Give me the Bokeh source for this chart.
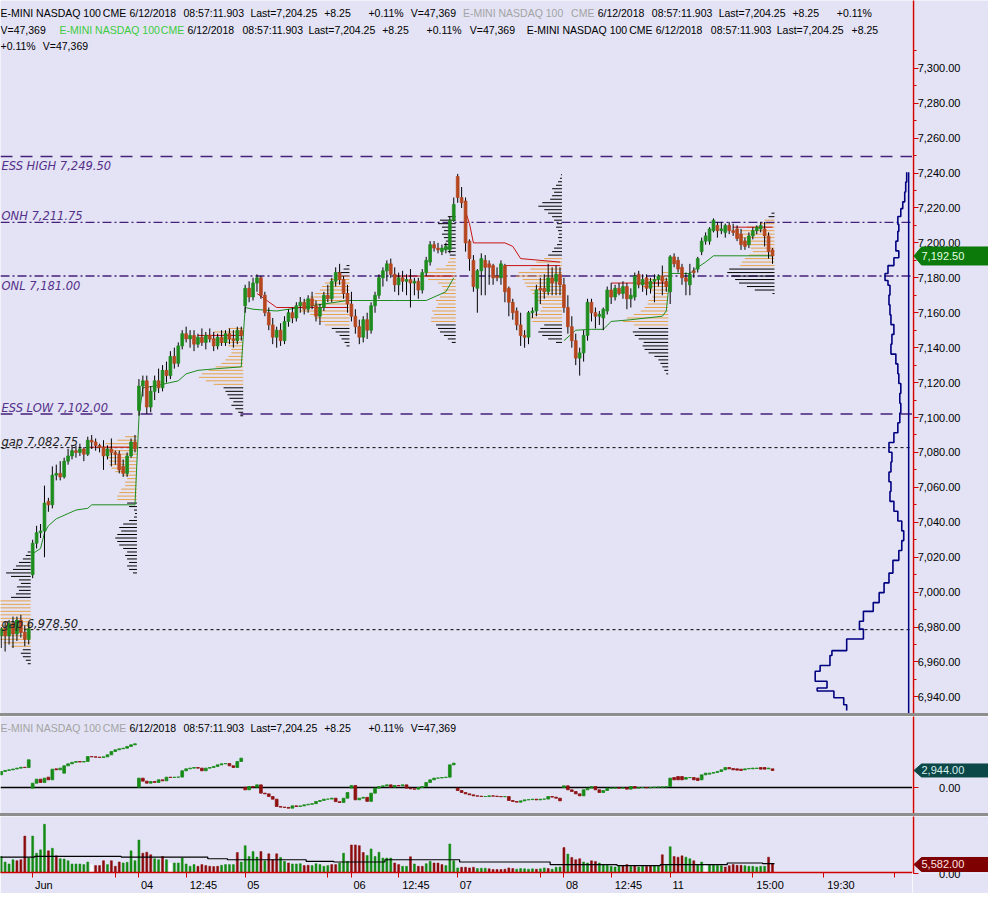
import math
from bokeh.plotting import figure
from bokeh.models import (Range1d, FixedTicker, NumeralTickFormatter, Label, Span,
                          ColumnDataSource, Div, LinearAxis)
from bokeh.layouts import column, row
from bokeh.embed import file_html
from bokeh.resources import INLINE
from bokeh.core.properties import value

# ------------------------------------------------------------------ DATA
# 15-minute bars, bar index 0 = first visible bar (May 31), 27 bars per session
session_names = ["May 31", "Jun 1", "Jun 4", "Jun 5", "Jun 6", "Jun 7", "Jun 8", "Jun 11"]

may31_open = [6975, 6979, 6975, 6982, 6976, 6984, 6977, 6973]
may31_high = [6980, 6983, 6984, 6986, 6986, 6987, 6981, 6982]
may31_low = [6968, 6966, 6970, 6968, 6972, 6974, 6969, 6970]
may31_close = [6979, 6975, 6982, 6976, 6984, 6977, 6973, 6979]

jun01_open = [7010, 7028, 7034, 7035, 7052, 7050, 7067, 7068, 7066, 7075, 7078, 7081, 7080, 7082, 7079, 7087, 7086, 7084, 7083, 7078, 7082, 7080, 7079, 7072, 7068, 7078, 7086]
jun01_high = [7030, 7038, 7039, 7061, 7054, 7072, 7073, 7075, 7077, 7082, 7084, 7084, 7085, 7083, 7089, 7090, 7088, 7085, 7087, 7084, 7088, 7081, 7081, 7076, 7080, 7088, 7090]
jun01_low = [7008, 7025, 7031, 7020, 7046, 7048, 7064, 7064, 7065, 7073, 7076, 7077, 7078, 7075, 7078, 7082, 7081, 7080, 7070, 7076, 7072, 7073, 7068, 7066, 7066, 7077, 7080]
jun01_close = [7028, 7034, 7035, 7051, 7050, 7067, 7068, 7066, 7075, 7078, 7081, 7080, 7082, 7079, 7087, 7086, 7084, 7083, 7078, 7082, 7080, 7079, 7070, 7068, 7078, 7086, 7082]

jun04_open = [7104, 7118, 7121, 7106, 7115, 7121, 7117, 7127, 7124, 7135, 7131, 7141, 7148, 7145, 7147, 7142, 7146, 7143, 7147, 7145, 7141, 7146, 7143, 7148, 7145, 7144, 7150]
jun04_high = [7122, 7124, 7124, 7118, 7124, 7128, 7130, 7132, 7138, 7140, 7143, 7150, 7152, 7150, 7150, 7148, 7151, 7149, 7151, 7149, 7148, 7150, 7150, 7151, 7150, 7152, 7152]
jun04_low = [7101, 7112, 7102, 7103, 7110, 7114, 7115, 7120, 7122, 7128, 7129, 7139, 7143, 7140, 7138, 7140, 7141, 7139, 7143, 7138, 7139, 7141, 7141, 7142, 7140, 7142, 7144]
jun04_close = [7118, 7121, 7106, 7115, 7121, 7117, 7127, 7124, 7135, 7131, 7141, 7148, 7145, 7147, 7142, 7146, 7143, 7147, 7145, 7141, 7146, 7143, 7148, 7145, 7144, 7150, 7147]

jun05_open = [7164, 7174, 7169, 7177, 7180, 7170, 7160, 7153, 7146, 7150, 7144, 7155, 7160, 7157, 7164, 7166, 7162, 7168, 7164, 7158, 7163, 7170, 7168, 7178, 7183, 7179, 7171]
jun05_high = [7176, 7178, 7180, 7182, 7181, 7172, 7163, 7157, 7152, 7154, 7158, 7162, 7163, 7166, 7169, 7168, 7170, 7172, 7167, 7165, 7172, 7176, 7180, 7186, 7188, 7181, 7176]
jun05_low = [7160, 7166, 7167, 7172, 7168, 7158, 7150, 7142, 7140, 7141, 7142, 7152, 7154, 7155, 7160, 7159, 7160, 7162, 7155, 7153, 7161, 7166, 7166, 7175, 7176, 7168, 7160]
jun05_close = [7174, 7169, 7177, 7180, 7170, 7160, 7153, 7146, 7150, 7144, 7155, 7160, 7157, 7164, 7166, 7162, 7168, 7164, 7158, 7163, 7170, 7168, 7178, 7183, 7179, 7171, 7165]

jun06_open = [7165, 7158, 7152, 7146, 7156, 7150, 7164, 7170, 7180, 7184, 7188, 7182, 7176, 7180, 7178, 7179, 7177, 7178, 7173, 7183, 7189, 7199, 7197, 7195, 7196, 7196, 7213]
jun06_high = [7172, 7162, 7156, 7158, 7160, 7166, 7172, 7182, 7186, 7190, 7191, 7186, 7183, 7184, 7182, 7185, 7180, 7180, 7185, 7192, 7201, 7201, 7200, 7199, 7200, 7215, 7226]
jun06_low = [7155, 7148, 7142, 7143, 7145, 7148, 7160, 7168, 7175, 7178, 7180, 7172, 7170, 7172, 7170, 7163, 7170, 7168, 7171, 7181, 7187, 7195, 7194, 7193, 7194, 7194, 7212]
jun06_close = [7158, 7152, 7146, 7156, 7150, 7164, 7170, 7180, 7184, 7188, 7182, 7176, 7180, 7178, 7179, 7177, 7178, 7173, 7183, 7190, 7199, 7197, 7196, 7197, 7198, 7213, 7222]

jun07_open = [7238, 7226, 7224, 7201, 7190, 7174, 7184, 7190, 7188, 7187, 7181, 7180, 7187, 7174, 7166, 7161, 7153, 7147, 7146, 7160, 7161, 7174, 7174, 7172, 7180, 7178, 7182]
jun07_high = [7239.5, 7232, 7226, 7202, 7193, 7185, 7194, 7193, 7190, 7188, 7186, 7190, 7188, 7175, 7168, 7163, 7160, 7150, 7161, 7163, 7176, 7180, 7182, 7188, 7186, 7187, 7186]
jun07_low = [7223, 7220, 7195, 7184, 7172, 7160, 7170, 7170, 7176, 7176, 7178, 7176, 7166, 7158, 7156, 7150, 7141, 7140, 7142, 7157, 7158, 7165, 7168, 7170, 7170, 7170, 7170]
jun07_close = [7226, 7223, 7200, 7191, 7175, 7184, 7191, 7186, 7186, 7180, 7180, 7188, 7172, 7166, 7160, 7153, 7147, 7146, 7160, 7161, 7173, 7173, 7172, 7180, 7177, 7182, 7176]

jun08_open = [7176, 7163, 7152, 7144, 7134, 7137, 7147, 7166, 7160, 7158, 7157, 7161, 7173, 7169, 7174, 7171, 7175, 7168, 7169, 7182, 7176, 7180, 7174, 7178, 7179, 7181, 7178]
jun08_high = [7180, 7170, 7158, 7148, 7140, 7150, 7168, 7168, 7163, 7161, 7163, 7175, 7177, 7176, 7177, 7178, 7177, 7174, 7183, 7184, 7182, 7182, 7180, 7182, 7182, 7187, 7180]
jun08_low = [7160, 7148, 7140, 7130, 7124, 7132, 7144, 7155, 7151, 7153, 7150, 7159, 7165, 7167, 7170, 7168, 7162, 7163, 7167, 7174, 7172, 7170, 7171, 7166, 7175, 7170, 7172]
jun08_close = [7163, 7152, 7144, 7134, 7137, 7147, 7166, 7160, 7158, 7159, 7162, 7173, 7169, 7174, 7171, 7175, 7168, 7170, 7181, 7176, 7179, 7174, 7178, 7179, 7181, 7178, 7175]

jun11_open = [7172, 7192, 7190, 7186, 7180, 7176, 7184, 7185, 7195, 7201, 7201, 7207, 7210, 7207, 7206, 7210, 7207, 7208, 7205, 7201, 7199, 7204, 7207, 7208, 7208, 7204, 7196]
jun11_high = [7193, 7194, 7192, 7188, 7183, 7188, 7186, 7192, 7203, 7206, 7209, 7214, 7212, 7212, 7211, 7212, 7211, 7210, 7208, 7203, 7206, 7209, 7210, 7212, 7212, 7206, 7197]
jun11_low = [7165, 7186, 7183, 7176, 7170, 7170, 7180, 7183, 7193, 7199, 7199, 7206, 7203, 7205, 7203, 7205, 7204, 7201, 7196, 7196, 7197, 7202, 7205, 7206, 7198, 7191, 7188]
jun11_close = [7192, 7188, 7185, 7180, 7178, 7182, 7183, 7191, 7201, 7204, 7208, 7213, 7207, 7208, 7210, 7207, 7206, 7202.5, 7199, 7198, 7204, 7207, 7209, 7210, 7204, 7195, 7192.5]

# cumulative delta (second pane)
may31_dopen = [2200, 2770, 2950, 3060, 3200, 3350, 3500, 3450]
may31_dclose = [2770, 2950, 3060, 3200, 3350, 3500, 3450, 4790]
jun01_dopen = [-115, 750, 1440, 870, 1790, 1330, 3230, 3060, 2480, 3750, 4100, 4350, 4500, 4400, 4500, 5360, 5300, 5250, 5200, 5300, 5650, 6230, 6520, 6700, 6800, 7100, 7380]
jun01_dclose = [750, 1440, 870, 1620, 1330, 3170, 3060, 3350, 3750, 4100, 4350, 4500, 4400, 4500, 5360, 5300, 5250, 5200, 5300, 5650, 6230, 6520, 6700, 6800, 7100, 7380, 7560]
jun04_dopen = [60, 1620, 1100, 750, 1040, 870, 1330, 1150, 1790, 1730, 1790, 1800, 2890, 3230, 3350, 3460, 3350, 2890, 3350, 3460, 3640, 3920, 4100, 4150, 3750, 3460, 4500]
jun04_dclose = [1620, 1100, 750, 1040, 870, 1330, 1150, 1790, 1730, 1790, 1800, 2890, 3230, 3350, 3460, 3350, 2890, 3350, 3460, 3640, 3920, 4100, 4150, 3750, 3460, 4500, 5080]
jun05_dopen = [50, -400, 170, 60, 460, -980, -1100, -1560, -2020, -3290, -3400, -3450, -3580, -3170, -3290, -3180, -3000, -2900, -2800, -2420, -2250, -2020, -2000, -1850, -2450, -2600, -1850]
jun05_dclose = [-400, 170, 60, 460, -980, -1100, -1560, -2020, -3290, -3400, -3450, -3580, -3170, -3290, -3180, -3000, -2900, -2800, -2420, -2250, -2020, -2000, -1850, -2450, -2600, -1850, -870]
jun06_dopen = [-100, 350, -2130, -1850, -1700, -2400, -980, -115, 170, 290, 460, 60, 350, 290, 460, -115, -230, -290, 0, 170, 870, 1330, 1620, 1650, 1730, 1790, 3920]
jun06_dclose = [350, -2130, -1850, -1700, -2400, -980, -115, 170, 290, 460, 60, 350, 290, 460, -115, -230, -290, 0, 170, 870, 1330, 1620, 1650, 1730, 1790, 3920, 4210]
jun07_dopen = [-100, -520, -870, -1100, -1270, -1440, -1500, -1560, -1560, -1440, -1500, -1560, -1600, -1560, -2250, -2420, -2540, -2310, -2140, -2100, -2020, -2140, -2020, -2000, -1560, -1670, -1850]
jun07_dclose = [-520, -870, -1100, -1270, -1440, -1500, -1560, -1560, -1440, -1500, -1560, -1600, -1560, -2250, -2420, -2540, -2310, -2140, -2100, -2020, -2140, -2020, -2000, -1560, -1670, -1850, -2310]
jun08_dopen = [0, 290, -400, -690, -1100, -1440, -400, -115, 170, -400, -870, -520, -115, -115, -60, -115, -60, -290, 170, -115, 0, 0, -60, 0, 60, 60, 100]
jun08_dclose = [290, -400, -690, -1100, -1440, -400, -115, 170, -400, -870, -520, -115, -115, -60, -115, -60, -290, 170, -115, 0, 0, -60, 0, 60, 60, 100, 120]
jun11_dopen = [170, 1730, 1900, 1900, 1440, 1700, 1730, 1616, 1330, 2190, 2310, 2480, 2600, 2770, 3060, 3460, 3290, 3230, 3170, 3060, 3230, 3230, 3290, 3460, 3460, 3230, 3230]
jun11_dclose = [1620, 1330, 1330, 1330, 1730, 1730, 1330, 1210, 2190, 2480, 2480, 2600, 2770, 3060, 3460, 3230, 3060, 3000, 2940, 3230, 3290, 3350, 3350, 3170, 3170, 3350, 2944]

# volume (third pane); side: g = up, r = down, w = unchanged
may31_vol = [10140, 6620, 5380, 8070, 7450, 8070, 22980, 9100]
may31_side = "ggggrrrg"
jun01_vol = [22980, 12210, 14280, 30430, 13660, 15320, 10560, 8690, 8490, 7450, 5380, 5380, 5380, 4970, 6620, 4970, 4350, 4350, 7450, 4970, 7450, 3930, 6620, 6000, 6410, 13660, 7450]
jun01_side = "ggggrgrggggggggwrrrgrrrgggg"
jun04_vol = [20490, 12210, 12830, 11180, 8690, 8070, 10140, 8070, 6000, 6000, 6000, 9100, 5380, 3930, 4970, 3930, 4970, 4350, 3930, 3720, 3930, 4550, 4970, 4970, 4970, 12620, 6620]
jun04_side = "grrrggrgwggggggrrrrrrggggrg"
jun05_vol = [16960, 10140, 13240, 9730, 13240, 7450, 11790, 8070, 11790, 9520, 7040, 6000, 5380, 5380, 5590, 4350, 4550, 4350, 5590, 4970, 3930, 4350, 4970, 4970, 6000, 12210, 7040]
jun05_side = "ggggrgrrrggrgggrrgggggrrggg"
jun06_vol = [17390, 17390, 16960, 12620, 10760, 14900, 10140, 12830, 9100, 9100, 9100, 6000, 4970, 3930, 3930, 9940, 5380, 3930, 3930, 5590, 7040, 6000, 6000, 4970, 4350, 18010, 7450]
jun06_side = "rrrrgggggggrrggrgrrggrrrggg"
jun07_vol = [2900, 3310, 3310, 2900, 3310, 2480, 2700, 2700, 2300, 1900, 1900, 1900, 2100, 2900, 2500, 2100, 2500, 2300, 2100, 2300, 2100, 2300, 2900, 2500, 2100, 3300, 3500]
jun07_side = "grrrrgggrrrrrrrgggggrggrggg"
jun08_vol = [15700, 11600, 9500, 8100, 8700, 6600, 6000, 7400, 7000, 6000, 5000, 4500, 3900, 3500, 3900, 4300, 5000, 3900, 4300, 3500, 3900, 3900, 4300, 4300, 4000, 11200, 4500]
jun08_side = "rgrrrggrrggggggrrgrggrrggrg"
jun11_vol = [16300, 10100, 9700, 10500, 9700, 8700, 7400, 5000, 6600, 5000, 5000, 5000, 4500, 4300, 3500, 4300, 5000, 4500, 4500, 4300, 3900, 3900, 3500, 3900, 3900, 9700, 5400]
jun11_side = "grrrggrggwggggrrrrrggggggrr"

# volume average (step line): first bar of each step and its value
vol_avg_start = [0, 9, 31, 53, 58, 78, 85, 98, 117, 140, 157, 168, 185, 194, 197]
vol_avg_value = [9720, 10130, 9720, 8680, 8060, 7030, 6620, 8060, 6620, 4960, 4340, 4960, 6000, 5582, 5582]

# session volume profiles: last bar of session, lowest level, value area, volume per 2-pt level
prof_last_bar = [7, 34, 61, 88, 115, 142, 169, 196]
prof_low_price = [6959, 7011, 7101, 7141, 7143, 7143, 7125, 7171]
prof_va_low = [6969, 7053, 7119, 7153, 7155, 7155, 7153, 7187]
prof_va_high = [6995, 7089, 7151, 7181, 7191, 7191, 7183, 7213]
may31_prof = [3, 5, 8, 10, 8, 20, 28, 35, 40, 38, 35, 32, 35, 40, 45, 42, 38, 35, 32, 20, 15, 12, 14, 10, 12, 20, 25, 18, 15, 12, 8, 5, 3]
jun01_prof = [4, 8, 10, 8, 10, 12, 10, 14, 18, 20, 22, 20, 16, 18, 14, 8, 3, 2, 3, 8, 10, 20, 20, 18, 16, 12, 12, 10, 14, 22, 26, 28, 28, 30, 32, 35, 35, 32, 20, 12]
jun04_prof = [3, 5, 8, 12, 10, 14, 16, 18, 20, 30, 38, 45, 42, 35, 28, 22, 18, 15, 12, 12, 15, 25, 35, 40, 30, 15]
jun05_prof = [3, 5, 8, 10, 14, 18, 25, 30, 35, 40, 50, 55, 50, 45, 40, 35, 30, 28, 25, 20, 15, 12, 6, 3]
jun06_prof = [4, 8, 12, 16, 18, 20, 25, 25, 22, 24, 20, 18, 20, 16, 14, 12, 14, 18, 28, 32, 30, 20, 10, 8, 6, 6, 8, 12, 12, 10, 12, 14, 12, 14, 18, 16, 8]
jun07_prof = [6, 14, 20, 24, 22, 18, 30, 32, 28, 22, 20, 22, 26, 28, 30, 32, 36, 38, 40, 47, 44, 32, 30, 26, 18, 14, 10, 8, 5, 3, 4, 3, 4, 6, 5, 8, 10, 14, 18, 24, 20, 12, 10, 8, 10, 6, 4, 2, 1]
jun08_prof = [2, 4, 6, 8, 10, 14, 20, 24, 26, 25, 30, 34, 36, 30, 35, 46, 42, 35, 28, 24, 21, 20, 16, 14, 18, 26, 24, 20, 8, 6]
jun11_prof = [2, 20, 28, 36, 40, 44, 48, 46, 35, 33, 30, 26, 22, 24, 28, 32, 38, 40, 34, 28, 14, 10, 6, 3]

# composite profile of the whole visible period (right side)
comp_price = [7240.4, 7234.8, 7229.1, 7223.5, 7219.6, 7215.1, 7210.6, 7206.6, 7201.0, 7195.4, 7191.5, 7187.0, 7182.5, 7178.5, 7175.7, 7170.1, 7164.5, 7158.8, 7153.2, 7147.6, 7142.0, 7136.3, 7130.7, 7125.1, 7119.5, 7113.8, 7108.2, 7102.6, 7097.0, 7091.3, 7085.7, 7080.1, 7074.5, 7068.8, 7063.2, 7057.6, 7052.0, 7046.3, 7040.7, 7035.1, 7029.5, 7023.8, 7018.2, 7010.9, 7005.3, 6999.7, 6994.0, 6989.0, 6983.3, 6978.8, 6973.2, 6966.5, 6963.7, 6958.0, 6954.7, 6949.0, 6945.1, 6943.4, 6939.5, 6935.5, 6932.2]
comp_vol = [2, 2, 3, 4, 6, 8, 11, 10, 11, 13, 10, 15, 21, 24, 21, 19, 20, 19, 18, 15, 17, 18, 13, 11, 10, 8, 9, 8, 9, 11, 15, 20, 17, 18, 20, 18, 19, 15, 11, 7, 5, 7, 10, 16, 20, 25, 30, 36, 46, 50, 46, 63, 78, 80, 90, 95, 83, 93, 76, 66, 63]

# developing VWAP (green) and red reference lines
vwap_bar = [8, 10, 11, 12, 14, 15, 17, 19, 22, 23, 34, 35, 36, 39, 45, 47, 50, 55, 61, 62, 64, 70, 76, 82, 88, 89, 100, 108, 113, 115, None, 143, 146, 150, 153, 155, 160, 168, 169, 170, 175, 177, 179, 181, 196]
vwap_price = [7022, 7025, 7034, 7038, 7042, 7043, 7045, 7047, 7048, 7050, 7050, 7100, 7117, 7118, 7121, 7125, 7127, 7128, 7129, 7163, 7162, 7161, 7163, 7165, 7167, 7167, 7167, 7167, 7172, 7180, None, 7144, 7150, 7150.5, 7150.5, 7155, 7156, 7158, 7161, 7182.5, 7182.5, 7186, 7189, 7192.6, 7192.6]
red_line_bars = [[22, 33], [50, 61], [65, 70, 88], [100, 115], [118, 119, 120, 121, 128, 130, 132, 142], [128, 142], [155, 169], [186, 196]]
red_line_prices = [[7083, 7083], [7147, 7147], [7171, 7163, 7163], [7181, 7181], [7218, 7211, 7200, 7200, 7200, 7198, 7191, 7189], [7187, 7187], [7177, 7177], [7209, 7209]]

# reference levels
level_price = [7249.50, 7211.75, 7181.00, 7102.00, 7082.75, 6978.50]
level_text = ["ESS HIGH 7,249.50", "ONH 7,211.75", "ONL 7,181.00", "ESS LOW 7,102.00", "gap 7,082.75", "gap 6,978.50"]

# axis ticks / labels
price_ticks = [6940, 6960, 6980, 7000, 7020, 7040, 7060, 7080, 7100, 7120, 7140, 7160, 7180, 7200, 7220, 7240, 7260, 7280, 7300]
time_tick_bar = [8, 29, 35, 47, 62, 83, 89, 101, 116, 137, 143, 155, 170, 191, 209, 227]
time_tick_text = ["Jun", "", "04", "12:45", "05", "", "06", "12:45", "07", "", "08", "12:45", "11", "15:00", "19:30", ""]

last_price = 7192.50
last_delta = 2944.00
last_vol_avg = 5582.00

hdr_row1 = [(0, "E-MINI NASDAQ 100", "k"), (104, "CME", "k"), (131, "6/12/2018", "k"), (186, "08:57:11.903", "k"),
            (254, "Last=7,204.25", "k"), (329, "+8.25", "k"), (374, "+0.11%", "k"), (417, "V=47,369", "k"),
            (470, "E-MINI NASDAQ 100", "gray"), (580, "CME", "gray"), (607, "6/12/2018", "k"), (662, "08:57:11.903", "k"),
            (730, "Last=7,204.25", "k"), (805, "+8.25", "k"), (850, "+0.11%", "k")]
hdr_row2 = [(0, "V=47,369", "k"), (60, "E-MINI NASDAQ 100", "green"), (163, "CME", "green"), (190, "6/12/2018", "k"),
            (246, "08:57:11.903", "k"), (313, "Last=7,204.25", "k"), (388, "+8.25", "k"), (433, "+0.11%", "k"),
            (477, "V=47,369", "k"), (535, "E-MINI NASDAQ 100", "k"), (639, "CME", "k"), (666, "6/12/2018", "k"),
            (722, "08:57:11.903", "k"), (789, "Last=7,204.25", "k"), (865, "+8.25", "k")]
hdr_row3 = [(0, "+0.11%", "k"), (43, "V=47,369", "k")]
hdr_delta = [(0, "E-MINI NASDAQ 100", "gray"), (104, "CME", "gray"), (131, "6/12/2018", "k"), (186, "08:57:11.903", "k"),
             (254, "Last=7,204.25", "k"), (329, "+8.25", "k"), (374, "+0.11%", "k"), (417, "V=47,369", "k")]

# ------------------------------------------------------------------ LAYOUT / STYLE
W, RIGHT = 988, 76
FW = W - RIGHT
H1, H2, H3, HSEP = 713, 97, 77, 3
VOL_AXIS_H = 20
X0, X1 = -0.175, 231.575
SX = FW / 927.0
SY = H1 / 726.0
PXB = FW / (X1 - X0)
MAIN_Y = (6930.5, 7338.8)
DELTA_Y = (-4498, 12283)
VOL_Y = (0, 35340)

BG = "#E3E3F5"
AX_RED = "#D00000"
UP_MAIN, DN_MAIN = "#1E8C1E", "#B5461E"
UP_SUB, DN_SUB = "#178A17", "#8E1212"
ORANGE = "#E6A24A"
PURPLE_LINE, PURPLE_TEXT = "#45207A", "#55308A"
TXT = {"k": "#000000", "gray": "#A3A3A3", "green": "#3DCB3D"}
FONT = "Liberation Sans"


def cat(*parts):
    out = []
    for p in parts:
        out.extend(p)
    return out


opens = cat(may31_open, jun01_open, jun04_open, jun05_open, jun06_open, jun07_open, jun08_open, jun11_open)
highs = cat(may31_high, jun01_high, jun04_high, jun05_high, jun06_high, jun07_high, jun08_high, jun11_high)
lows = cat(may31_low, jun01_low, jun04_low, jun05_low, jun06_low, jun07_low, jun08_low, jun11_low)
closes = cat(may31_close, jun01_close, jun04_close, jun05_close, jun06_close, jun07_close, jun08_close, jun11_close)
dopen = cat(may31_dopen, jun01_dopen, jun04_dopen, jun05_dopen, jun06_dopen, jun07_dopen, jun08_dopen, jun11_dopen)
dclose = cat(may31_dclose, jun01_dclose, jun04_dclose, jun05_dclose, jun06_dclose, jun07_dclose, jun08_dclose, jun11_dclose)
vols = cat(may31_vol, jun01_vol, jun04_vol, jun05_vol, jun06_vol, jun07_vol, jun08_vol, jun11_vol)
sides = may31_side + jun01_side + jun04_side + jun05_side + jun06_side + jun07_side + jun08_side + jun11_side
profiles = [may31_prof, jun01_prof, jun04_prof, jun05_prof, jun06_prof, jun07_prof, jun08_prof, jun11_prof]
bars = list(range(len(closes)))

xr = Range1d(X0, X1)


def make_fig(height, yr, below=False, min_bottom=0):
    p = figure(width=FW, height=height, x_range=xr, y_range=yr,
               output_backend="svg", toolbar_location=None,
               x_axis_location="below" if below else None, y_axis_location=None,
               min_border_left=0, min_border_right=0, min_border_top=0, min_border_bottom=min_bottom,
               background_fill_color=BG, border_fill_color=BG, outline_line_color=None)
    p.grid.visible = False
    return p


def make_axis_strip(height, yr, ticks, minor, min_bottom=0):
    """Narrow figure right of a pane: its real y-axis forms the red price scale."""
    r = figure(width=RIGHT, height=height, x_range=Range1d(0, RIGHT - 1), y_range=yr,
               output_backend="svg", toolbar_location=None,
               x_axis_location=None, y_axis_location="left",
               min_border_left=1, min_border_right=0, min_border_top=0, min_border_bottom=min_bottom,
               background_fill_color=BG, border_fill_color=BG, outline_line_color=None)
    r.grid.visible = False
    ax = r.yaxis[0]
    ax.ticker = FixedTicker(ticks=ticks, minor_ticks=minor)
    ax.formatter = NumeralTickFormatter(format="0,0.00")
    ax.axis_line_color = AX_RED
    ax.axis_line_width = 1.5
    ax.major_tick_line_color = AX_RED
    ax.minor_tick_line_color = AX_RED
    ax.major_tick_in = 5
    ax.major_tick_out = 0
    ax.minor_tick_in = 3
    ax.minor_tick_out = 0
    ax.major_label_standoff = -47
    ax.major_label_text_font = FONT
    ax.major_label_text_font_size = "11px"
    ax.major_label_text_color = "#000000"
    return r


def header(p, rows_baselines, top_y):
    for row_, base in rows_baselines:
        for xref, txt, col in row_:
            p.add_layout(Label(x=X0, y=top_y, x_offset=xref * SX, y_offset=-base * SY, text=txt,
                               text_font=FONT, text_font_size="10.5px", text_color=TXT[col],
                               text_baseline="alphabetic", text_align="left"))


def axis_box(r, yv, half_px, units_per_px, txt, fill, tcol):
    h = half_px * units_per_px
    r.patch(x=[0.5, 8, 90, 90, 8], y=[yv, yv + h, yv + h, yv - h, yv - h],
            fill_color=fill, line_color=fill, level="overlay")
    r.text(x=[8], y=[yv], text=[txt], text_font=value(FONT), text_font_size="11px",
           text_color=tcol, text_baseline="middle", text_align="left", level="overlay")


# ------------------------------------------------------------------ MAIN PRICE PANE
yr1 = Range1d(*MAIN_Y)
p1 = make_fig(H1, yr1)

# session profiles
seg = dict(x0=[], x1=[], y=[], c=[])
PROF_SCALE = 0.25
for d, vol_list in enumerate(profiles):
    anchor = prof_last_bar[d] + 0.5
    for i, v in enumerate(vol_list):
        lvl = prof_low_price[d] + 2 * i
        seg["x0"].append(anchor - v * PROF_SCALE)
        seg["x1"].append(anchor)
        seg["y"].append(lvl)
        seg["c"].append(ORANGE if prof_va_low[d] <= lvl <= prof_va_high[d] else "#000000")
p1.segment(x0="x0", y0="y", x1="x1", y1="y", line_color="c", line_width=1, source=ColumnDataSource(seg))

# composite profile at the right, drawn as a stepped outline
COMP_ANCHOR = 230.6
cx, cy = [], []
for i, (pr, v) in enumerate(zip(comp_price, comp_vol)):
    xv = COMP_ANCHOR - v * PROF_SCALE
    if i > 0:
        cx.append(xv)
        cy.append(comp_price[i - 1])
    cx.append(xv)
    cy.append(pr)
p1.line(x=cx, y=cy, line_color="#000080", line_width=1.6)
p1.segment(x0=[COMP_ANCHOR], y0=[MAIN_Y[0]], x1=[COMP_ANCHOR], y1=[comp_price[0]], line_color="#000080", line_width=1.5)

# reference levels: (line colour, dash, label placement)
level_style = [("#45207A", "12 8", "below"), (PURPLE_LINE, "9 3 2 3", "above"), (PURPLE_LINE, "9 3 2 3", "below"),
               ("#45207A", "12 8", "above"), ("#000000", "3 3", "above"), ("#000000", "3 3", "above")]
for lv, txt, (col, dash, where) in zip(level_price, level_text, level_style):
    p1.add_layout(Span(location=lv, dimension="width", line_color=col, line_dash=dash,
                       line_width=1.4 if col != "#000000" else 1.0, level="underlay"))
    p1.add_layout(Label(x=X0, y=lv, x_offset=1, y_offset=(6 if where == "above" else -3) * SY, text=txt,
                        text_font="DejaVu Sans", text_font_size="11.5px", text_font_style="italic",
                        text_color=PURPLE_TEXT if col != "#000000" else "#222222",
                        text_baseline="alphabetic" if where == "above" else "top"))

# lines
p1.line(x=[b if b is not None else float("nan") for b in vwap_bar],
        y=[v if v is not None else float("nan") for v in vwap_price], line_color="#1E8C1E", line_width=1)
p1.multi_line(xs=red_line_bars, ys=red_line_prices, line_color="#C81414", line_width=1)

# candles
src = ColumnDataSource(dict(
    x=bars, lo=lows, hi=highs,
    top=[max(o, c) for o, c in zip(opens, closes)],
    bot=[min(o, c) for o, c in zip(opens, closes)],
    col=[UP_MAIN if c >= o else DN_MAIN for o, c in zip(opens, closes)]))
p1.segment(x0="x", y0="lo", x1="x", y1="hi", line_color="#000000", line_width=1, source=src)
p1.vbar(x="x", width=0.7, top="top", bottom="bot", fill_color="col", line_color="col", line_width=0.8, source=src)

header(p1, [(hdr_row1, 13), (hdr_row2, 30), (hdr_row3, 46)], MAIN_Y[1])

r1 = make_axis_strip(H1, yr1, price_ticks, [v for v in range(6930, 7320, 10) if v % 20 != 0])
axis_box(r1, last_price, 9, (MAIN_Y[1] - MAIN_Y[0]) / H1, "7,192.50", "#0B7A0B", "#E6FFE6")

# ------------------------------------------------------------------ DELTA PANE
yr2 = Range1d(*DELTA_Y)
p2 = make_fig(H2, yr2)
p2.add_layout(Span(location=0, dimension="width", line_color="#000000", line_width=1.4, level="underlay"))
dsrc = ColumnDataSource(dict(
    x=bars,
    top=[max(o, c) for o, c in zip(dopen, dclose)],
    bot=[min(o, c) for o, c in zip(dopen, dclose)],
    col=[UP_SUB if c >= o else DN_SUB for o, c in zip(dopen, dclose)]))
p2.vbar(x="x", width=0.7, top="top", bottom="bot", fill_color="col", line_color="col", line_width=0.8, source=dsrc)
header(p2, [(hdr_delta, 12)], DELTA_Y[1])

r2 = make_axis_strip(H2, yr2, [0], [])
axis_box(r2, last_delta, 6.5, (DELTA_Y[1] - DELTA_Y[0]) / H2, "2,944.00", "#0D4848", "#D8F0F0")

# ------------------------------------------------------------------ VOLUME PANE
yr3 = Range1d(*VOL_Y)
p3 = make_fig(H3, yr3, below=True, min_bottom=VOL_AXIS_H)
side_col = {"g": "#128A12", "r": "#8B0A0A", "w": "#FFFFFF"}
p3.vbar(x=bars, width=0.5, top=vols, bottom=0, fill_color=[side_col[s] for s in sides],
        line_color=[side_col[s] for s in sides], line_width=0.5)
ax_x, ax_y = [], []
for i in range(len(vol_avg_start) - 1):
    ax_x += [vol_avg_start[i] - 0.5, vol_avg_start[i + 1] - 0.5]
    ax_y += [vol_avg_value[i], vol_avg_value[i]]
p3.line(x=ax_x, y=ax_y, line_color="#000000", line_width=1.2)

# time axis: tick marks on the first axis, left-aligned labels on a second one just below it
xa = p3.xaxis[0]
xa.ticker = FixedTicker(ticks=time_tick_bar)
xa.major_label_overrides = {t: "" for t in time_tick_bar}
xa.major_label_text_font_size = "0px"
xa.major_label_standoff = 0
xa.axis_line_color = AX_RED
xa.axis_line_width = 1.5
xa.major_tick_line_color = AX_RED
xa.major_tick_in = 0
xa.major_tick_out = 5
xa.minor_tick_line_color = None

lab_pos, lab_over = [], {}
for t, txt in zip(time_tick_bar, time_tick_text):
    if txt:
        pos = round(t + (2 + 3.05 * len(txt)) / PXB, 3)
        lab_pos.append(pos)
        lab_over[pos] = txt
lab_axis = LinearAxis(ticker=FixedTicker(ticks=lab_pos), major_label_overrides=lab_over,
                      axis_line_color=None, major_tick_line_color=None, minor_tick_line_color=None,
                      major_tick_in=0, major_tick_out=0, major_label_standoff=1,
                      major_label_text_font=FONT, major_label_text_font_size="11px",
                      major_label_text_color="#000000")
p3.add_layout(lab_axis, "below")

r3 = make_axis_strip(H3, yr3, [0], [], min_bottom=VOL_AXIS_H)
axis_box(r3, last_vol_avg, 7, (VOL_Y[1] - VOL_Y[0]) / (H3 - VOL_AXIS_H), "5,582.00", "#7E0000", "#FFE4E4")

# ------------------------------------------------------------------ PAGE
def sep(w):
    return Div(text="", width=w, height=HSEP, margin=0, styles={"background-color": "#8E8E8E"})


left = column(p1, sep(FW), p2, sep(FW), p3, spacing=0)
right = column(r1, sep(RIGHT), r2, sep(RIGHT), r3, spacing=0)
layout = row(left, right, spacing=0)
open("out.html", "w").write(file_html(layout, INLINE, title="E-MINI NASDAQ 100"))
